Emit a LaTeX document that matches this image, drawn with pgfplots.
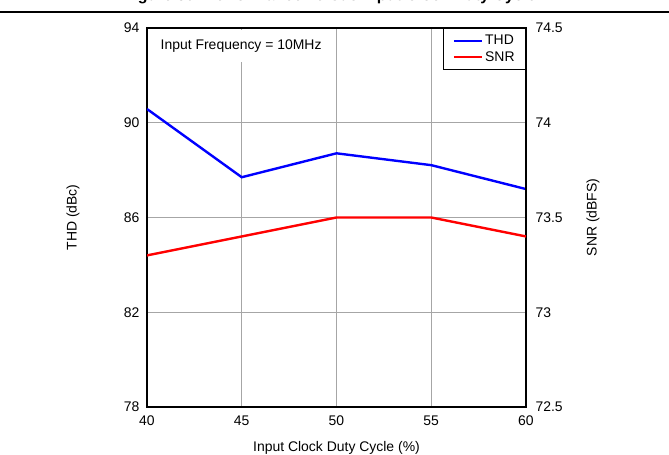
\documentclass[border=0pt]{standalone}
\usepackage{pgfplots}
\pgfplotsset{compat=1.18}
\usepackage{fontspec}
\setmainfont{Liberation Sans}
\newcommand{\fs}{\fontsize{14}{16}\selectfont}
\begin{document}
\begin{tikzpicture}
\useasboundingbox (-147bp,-48bp) rectangle (522bp,407bp);
\begin{scope}
\clip (-147bp,-48bp) rectangle (522bp,407bp);
\node[anchor=base, font=\bfseries\fontsize{16}{18}\selectfont, inner sep=0] at (183bp,406.5bp) {Figure 30. Performance versus Input Clock Duty Cycle};
\end{scope}
\draw[line width=1.2bp] (-147bp,395bp) -- (522bp,395bp);
\pgfplotsset{every axis/.append style={
  /pgf/number format/assume math mode=true,
  scale only axis, width=379bp, height=379bp,
  at={(0bp,0bp)}, anchor=south west,
  xmin=40, xmax=60,
  tick style={draw=none},
  ticklabel style={font=\fs, text=black},
  label style={font=\fs},
  axis line style={line width=1.6bp, black},
}}
\begin{axis}[
  ymin=78, ymax=94,
  xtick={40,45,50,55,60},
  ytick={78,82,86,90,94},
  grid=major,
  grid style={line width=0.8bp, black!35},
  xlabel={Input Clock Duty Cycle (\%)},
  ylabel={THD (dBc)},
  xlabel style={at={(axis description cs:0.5,-0.108)}, anchor=center},
  ylabel style={at={(axis description cs:-0.195,0.5)}, anchor=center},
  xticklabel style={yshift=-5bp},
  yticklabel style={xshift=-4bp},
]
\addplot[blue, line width=2.4bp] coordinates {(40,90.58) (45,87.70) (50,88.71) (55,88.21) (60,87.20)};
\node[anchor=north west, fill=white, inner xsep=12bp, inner ysep=0pt, minimum height=32bp, font=\fs, xshift=1.5bp, yshift=-1.5bp] at (rel axis cs:0,1) {Input Frequency = 10MHz};
\end{axis}
\begin{axis}[
  ymin=72.5, ymax=74.5,
  axis x line=none,
  axis y line*=right,
  ytick={72.5,73,73.5,74,74.5},
  ylabel={SNR (dBFS)},
  ylabel style={at={(axis description cs:1.177,0.5)}, anchor=center},
  yticklabel style={xshift=6bp},
  legend style={at={(rel axis cs:1,1)}, anchor=north east, draw=black, line width=0.8bp, font=\fs, inner xsep=9bp, inner ysep=5bp, row sep=1bp, legend cell align=left, /tikz/every even column/.append style={column sep=9bp}},
  legend image code/.code={\draw[#1] (0bp,0bp) -- (28bp,0bp);},
]
\addlegendimage{blue, line width=2.4bp}
\addlegendentry{THD}
\addplot[red, line width=2.4bp] coordinates {(40,73.30) (45,73.40) (50,73.50) (55,73.50) (60,73.40)};
\addlegendentry{SNR}
\end{axis}
\end{tikzpicture}
\end{document}
